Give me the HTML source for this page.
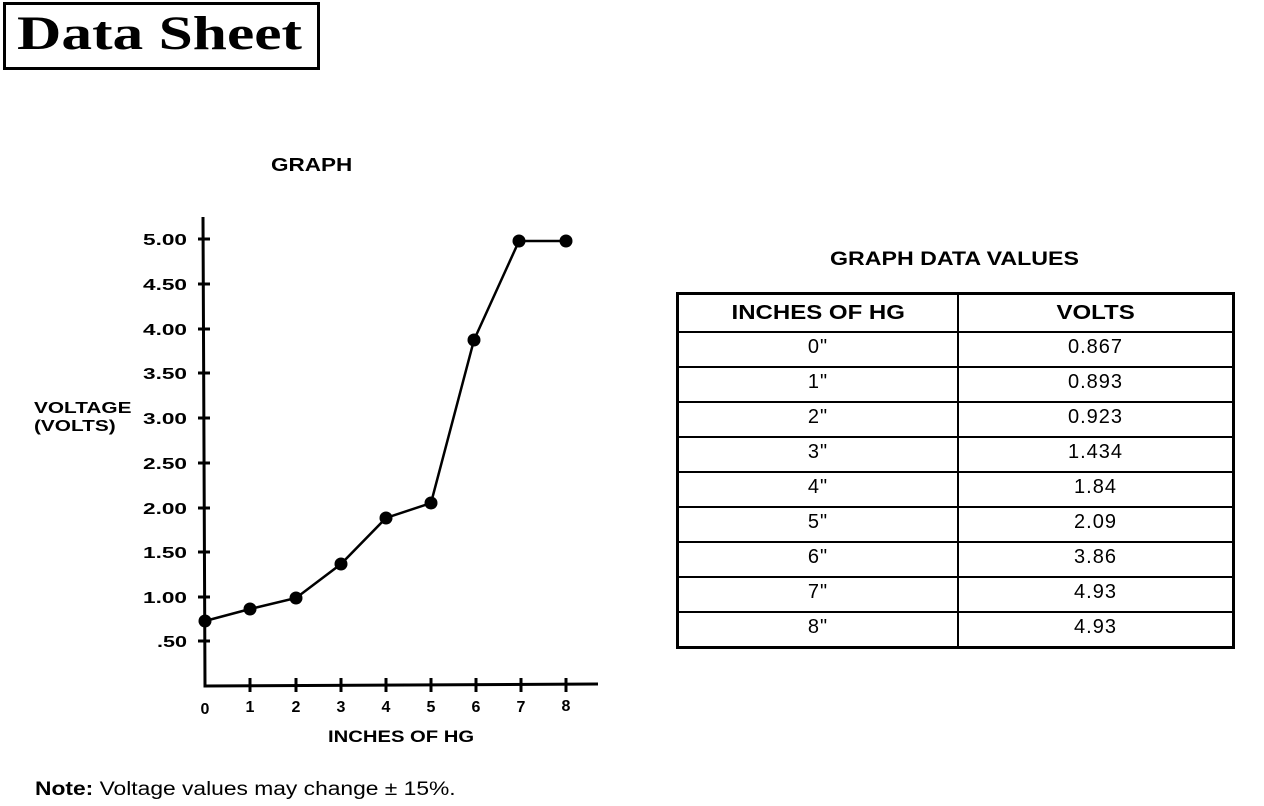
<!DOCTYPE html>
<html><head><meta charset="utf-8"><style>
body{margin:0;width:1264px;height:806px;background:#fff;position:relative;overflow:hidden;font-family:"Liberation Sans",Arial,sans-serif;color:#000}
.t{position:absolute;white-space:nowrap;transform-origin:0 0}
.b{font-weight:bold}
table{position:absolute;left:676px;top:292px;width:559px;height:353px;border-collapse:collapse;border:3px solid #000}
td{border:2px solid #000;text-align:center;font-size:20px;padding:0 0 5px 0;height:28px;letter-spacing:1px}
th{border:2px solid #000;font-size:20px;font-weight:bold;height:34px;letter-spacing:0px}
.s{display:inline-block;transform:scaleX(1.2)}
</style></head><body>
<div style="position:absolute;left:3px;top:2px;width:311px;height:62px;border:3px solid #000"></div>
<div class="t b" style="left:17px;top:6px;font-family:'Liberation Serif',serif;font-size:48px;transform:scaleX(1.28)">Data Sheet</div>
<div class="t b" style="left:271px;top:155px;font-size:18px;transform:scaleX(1.25)">GRAPH</div>
<div class="t b" style="left:830px;top:249px;font-size:19px;transform:scaleX(1.22)">GRAPH DATA VALUES</div>
<div class="t b" style="left:34px;top:400px;font-size:16px;line-height:18px;transform:scaleX(1.3)">VOLTAGE<br>(VOLTS)</div>
<div class="t b" style="left:328px;top:727px;font-size:17px;transform:scaleX(1.19)">INCHES OF HG</div>
<div class="t" style="left:35px;top:779px;font-size:19px;transform:scaleX(1.2)"><b>Note:</b> Voltage values may change ± 15%.</div>
<svg width="1264" height="806" style="position:absolute;left:0;top:0" font-family="Liberation Sans,Arial,sans-serif" font-size="16" font-weight="bold">
<g stroke="#000" stroke-width="3" fill="none">
<path d="M203 217 L205 686 L598 684"/>
<path d="M198 239h12M198 284h12M198 329h12M198 373h12M198 418h12M198 463h12M198 508h12M198 552h12M198 597h12M198 641h12"/>
<path d="M250 678v14M296 678v14M341 678v14M386 678v14M431 678v14M476 678v14M521 678v14M566 678v14"/>
<polyline stroke-width="2.5" points="205,621 250,609 296,598 341,564 386,518 431,503 474,340 519,241 566,241"/>
</g>
<g fill="#000">
<circle cx="205" cy="621" r="6.5"/><circle cx="250" cy="609" r="6.5"/><circle cx="296" cy="598" r="6.5"/><circle cx="341" cy="564" r="6.5"/><circle cx="386" cy="518" r="6.5"/><circle cx="431" cy="503" r="6.5"/><circle cx="474" cy="340" r="6.5"/><circle cx="519" cy="241" r="6.5"/><circle cx="566" cy="241" r="6.5"/>
</g>
<g text-anchor="end" lengthAdjust="spacingAndGlyphs">
<text x="187" y="245" textLength="44" lengthAdjust="spacingAndGlyphs">5.00</text><text x="187" y="290" textLength="44" lengthAdjust="spacingAndGlyphs">4.50</text><text x="187" y="335" textLength="44" lengthAdjust="spacingAndGlyphs">4.00</text><text x="187" y="379" textLength="44" lengthAdjust="spacingAndGlyphs">3.50</text><text x="187" y="424" textLength="44" lengthAdjust="spacingAndGlyphs">3.00</text><text x="187" y="469" textLength="44" lengthAdjust="spacingAndGlyphs">2.50</text><text x="187" y="514" textLength="44" lengthAdjust="spacingAndGlyphs">2.00</text><text x="187" y="558" textLength="44" lengthAdjust="spacingAndGlyphs">1.50</text><text x="187" y="603" textLength="44" lengthAdjust="spacingAndGlyphs">1.00</text><text x="187" y="647" textLength="30" lengthAdjust="spacingAndGlyphs">.50</text>
</g>
<g text-anchor="middle">
<text x="205" y="714">0</text><text x="250" y="712">1</text><text x="296" y="712">2</text><text x="341" y="712">3</text><text x="386" y="712">4</text><text x="431" y="712">5</text><text x="476" y="712">6</text><text x="521" y="712">7</text><text x="566" y="711">8</text>
</g>
</svg>
<table>
<tr><th style="width:276px"><span class="s">INCHES OF HG</span></th><th><span class="s">VOLTS</span></th></tr>
<tr><td>0"</td><td>0.867</td></tr>
<tr><td>1"</td><td>0.893</td></tr>
<tr><td>2"</td><td>0.923</td></tr>
<tr><td>3"</td><td>1.434</td></tr>
<tr><td>4"</td><td>1.84</td></tr>
<tr><td>5"</td><td>2.09</td></tr>
<tr><td>6"</td><td>3.86</td></tr>
<tr><td>7"</td><td>4.93</td></tr>
<tr><td>8"</td><td>4.93</td></tr>
</table>
</body></html>
